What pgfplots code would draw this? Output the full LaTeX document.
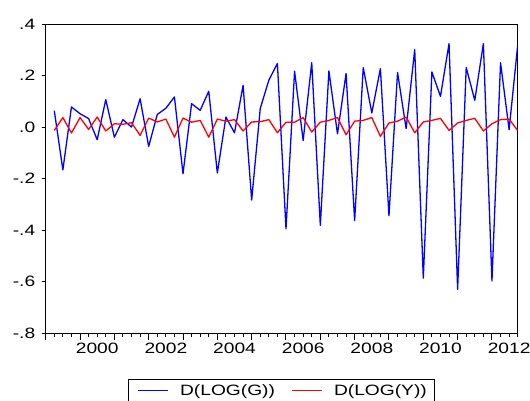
\documentclass[border=0pt]{standalone}
\usepackage{pgfplots}
\usepackage{pgfplotstable}
\usepackage{fontspec}
\setmainfont{Liberation Sans}[FakeStretch=1.28]
\pgfplotsset{compat=1.18}

% quarterly data, 1999Q2 .. 2012Q4; q = quarters since 1999Q1
\pgfplotstableread{
q   g       y
1   0.064 -0.013
2  -0.166  0.037
3   0.078 -0.023
4   0.052  0.037
5   0.033 -0.009
6  -0.049  0.039
7   0.107 -0.015
8  -0.039  0.013
9   0.029  0.011
10  0.000  0.017
11  0.110 -0.032
12 -0.075  0.035
13  0.049  0.020
14  0.073  0.031
15  0.117 -0.039
16 -0.181  0.035
17  0.091  0.019
18  0.065  0.026
19  0.139 -0.039
20 -0.178  0.031
21  0.039  0.023
22 -0.022  0.029
23  0.162 -0.015
24 -0.283  0.020
25  0.072  0.021
26  0.182  0.029
27  0.247 -0.022
28 -0.395  0.019
29  0.217  0.019
30 -0.052  0.037
31  0.250 -0.019
32 -0.381  0.019
33  0.218  0.026
34 -0.026  0.037
35  0.208 -0.030
36 -0.363  0.023
37  0.231  0.026
38  0.055  0.037
39  0.227 -0.036
40 -0.344  0.016
41  0.212  0.023
42 -0.006  0.039
43  0.301 -0.022
44 -0.586  0.020
45  0.214  0.026
46  0.119  0.034
47  0.324 -0.013
48 -0.629  0.016
49  0.231  0.026
50  0.104  0.034
51  0.324 -0.015
52 -0.597  0.013
53  0.250  0.029
54 -0.010  0.031
55  0.318 -0.013
}\datatable

\begin{document}
\begin{tikzpicture}[font=\fontsize{15bp}{18bp}\selectfont]
  \begin{axis}[
    scale only axis,
    width=472bp, height=309.3bp,
    at={(45.7bp,67.7bp)}, anchor=south west,
    xmin=0, xmax=55,
    ymin=-0.8, ymax=0.4,
    axis line style={line width=1bp},
    tick align=outside,
    xtick pos=bottom, ytick pos=left,
    major tick length=4bp,
    tick style={black, line width=1bp},
    % quarterly ticks, no labels
    xtick={0,1,...,55},
    xticklabel=\empty,
    % year ticks, longer, labels centred on every other year
    extra x ticks={0,4,...,52},
    extra x tick labels={,\mbox{2000},,\mbox{2002},,\mbox{2004},,\mbox{2006},,\mbox{2008},,\mbox{2010},,\mbox{2012}},
    extra x tick style={major tick length=6.5bp,
      xticklabel style={xshift=17.2bp}},
    ytick={-0.8,-0.6,-0.4,-0.2,0,0.2,0.4},
    yticklabels={\mbox{-.8},\mbox{-.6},\mbox{-.4},\mbox{-.2},\mbox{.0},\mbox{.2},\mbox{.4}},
    y tick label style={xshift=-3bp},
    legend columns=2,
    legend style={
      at={(0.1754,-0.147)}, anchor=north west,
      draw=black, line width=1bp,
      inner xsep=8bp, inner ysep=5bp,
      nodes={inner sep=0pt},
      /tikz/every odd column/.append style={column sep=11.8bp},
      /tikz/every even column/.append style={column sep=15.9bp},
    },
    legend image code/.code={\draw[#1] (0bp,0bp) -- (30bp,0bp);},
  ]
  \addplot[blue, line width=1.3bp, line join=round] table[x=q, y=g] {\datatable};
  \addlegendentry{D(LOG(G))}
  \addplot[red, line width=1.3bp, line join=round] table[x=q, y=y] {\datatable};
  \addlegendentry{D(LOG(Y))}
  \end{axis}
  \pgfresetboundingbox
  \path[use as bounding box] (0,0) rectangle (530bp,401bp);
\end{tikzpicture}
\end{document}
